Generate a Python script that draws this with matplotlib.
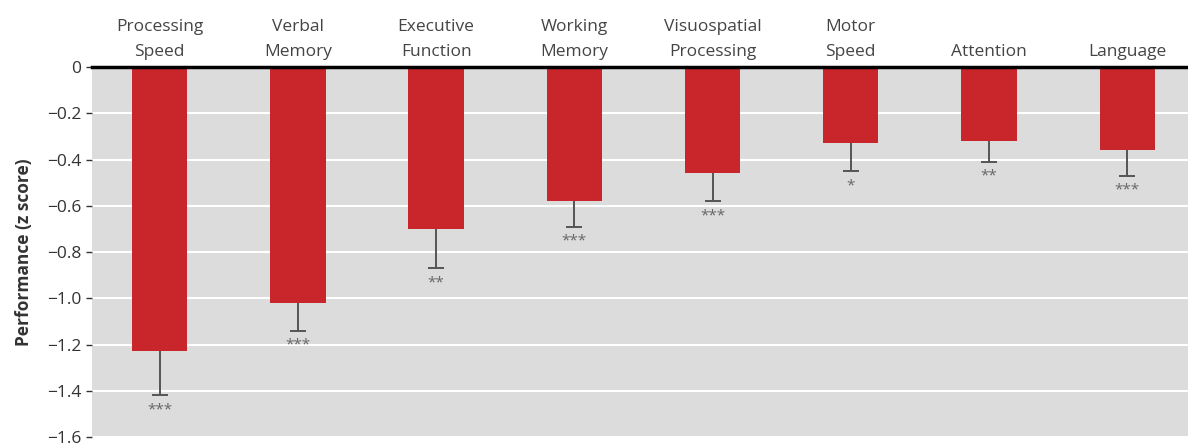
import matplotlib

matplotlib.use("Agg")
import matplotlib.pyplot as plt
import numpy as np

categories = ["Processing\nSpeed", "Verbal\nMemory", "Executive\nFunction", "Working\nMemory",
              "Visuospatial\nProcessing", "Motor\nSpeed", "Attention", "Language"]
means = [-1.23, -1.02, -0.70, -0.58, -0.46, -0.33, -0.32, -0.36]
errors = [0.19, 0.12, 0.17, 0.11, 0.12, 0.12, 0.09, 0.11]
stars = ["***", "***", "**", "***", "***", "*", "**", "***"]
yticks = [0, -0.2, -0.4, -0.6, -0.8, -1.0, -1.2, -1.4, -1.6]

plt.rcParams["font.family"] = ["Open Sans", "DejaVu Sans"]

fig = plt.figure(figsize=(11.88, 4.47), dpi=100)
ax = fig.add_axes([0.0774, 0.0224, 0.9226, 0.8276])
ax.set_facecolor("#dcdcdc")

x = np.arange(len(categories))
lows = np.array(means) - np.array(errors)
ax.bar(x, means, width=0.40, color="#c8262a", zorder=3)
# one-sided error bars: stem from the bar end down, cap only at the tip
ax.vlines(x, means, lows, color="#555555", linewidth=1.4, zorder=2)
ax.plot(x, lows, linestyle="none", marker="_", markersize=11, markeredgewidth=1.4,
        color="#555555", zorder=2)
for xi, lo, s in zip(x, lows, stars):
    ax.text(xi, lo - 0.03, s, ha="center", va="top", fontsize=11, color="#666666")

ax.set_ylim(-1.6, 0)
ax.set_xlim(-0.49, 7.44)
ax.set_yticks(yticks)
ax.set_yticklabels(["0" if t == 0 else f"{t:.1f}".replace("-", "\u2212") for t in yticks])
ax.yaxis.grid(True, color="white", linewidth=1.5, zorder=0)
ax.set_axisbelow(True)

ax.xaxis.tick_top()
ax.set_xticks(x)
ax.set_xticklabels(categories, fontsize=12.5, color="#444444", linespacing=1.75)
ax.tick_params(axis="x", length=0, pad=5)
ax.tick_params(axis="y", labelsize=12.5, colors="#333333", length=4, width=1)
for sp in ["left", "right", "bottom"]:
    ax.spines[sp].set_visible(False)
ax.spines["top"].set_linewidth(2.5)
ax.spines["top"].set_zorder(5)

ax.set_ylabel("Performance (z score)", fontsize=12.5, fontweight="bold", color="#333333", labelpad=10)

fig.savefig("out.png", dpi=100)
